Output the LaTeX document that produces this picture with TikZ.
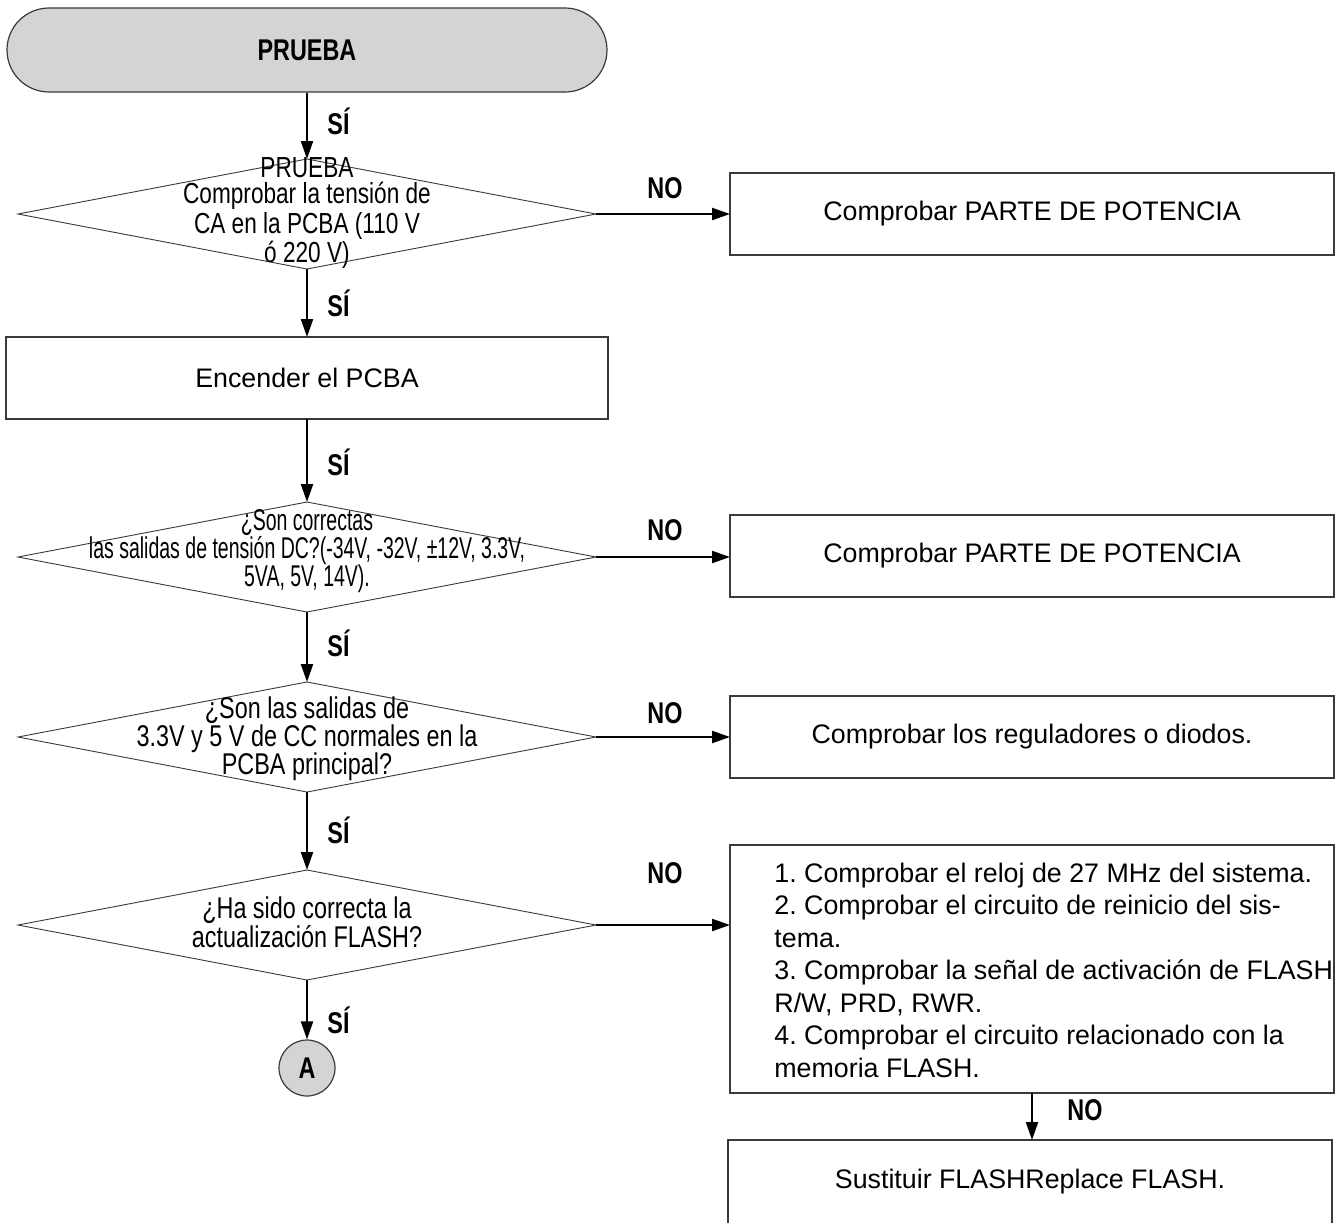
\documentclass[tikz,border=0pt]{standalone}
\usepackage{fontspec}
\setmainfont{Liberation Sans}
\newfontfamily\narrowfont[FakeStretch=0.78]{Liberation Sans}
\newfontfamily\narrowerfont[FakeStretch=0.65]{Liberation Sans}
\usetikzlibrary{arrows.meta,shapes.geometric}

\definecolor{edgegray}{HTML}{3A3A3A}
\definecolor{fillgray}{HTML}{D3D4D5}

\begin{document}
\frenchspacing
\begin{tikzpicture}[x=0.5pt,y=-0.5pt,
  boxstyle/.style={draw=edgegray, line width=0.7pt, rectangle, minimum width=302pt,
    minimum height=41pt, inner sep=0pt, outer sep=0pt,
    font=\fontsize{13.4}{16.25}\selectfont},
  decision/.style={draw=edgegray, line width=0.45pt, diamond, minimum width=289pt,
    minimum height=55pt, inner sep=0pt, outer sep=0pt},
  dtext/.style={align=center, inner sep=0pt},
  flow/.style={line width=1.1pt, -{Triangle[length=9pt,width=6pt]}},
  lbl/.style={font=\narrowfont\bfseries\fontsize{15}{16}\selectfont, inner sep=0pt},
  yes/.style={lbl, anchor=west},
]
\clip (0,0) rectangle (1343,1222);
\fill[white] (0,0) rectangle (1343,1222);

% main column
\node[draw=edgegray, line width=0.6pt, fill=fillgray, rounded corners=21pt,
  minimum width=300pt, minimum height=42pt, inner sep=0pt, lbl] (start) at (307,50) {PRUEBA};

\node[decision] (d1) at (307,214) {};
\node[dtext, font=\narrowfont\fontsize{14.5}{13.2}\selectfont] (d1t) at (307,213)
  {PRUEBA\\Comprobar la tensión de\\CA en la PCBA (110 V\\ó 220 V)};

\node[boxstyle, minimum width=301pt] (power) at (307,378) {Encender el PCBA};

\node[decision] (d2) at (307,557) {};
\node[dtext, font=\narrowerfont\fontsize{15}{14}\selectfont] (d2t) at (307,551)
  {¿Son correctas\\las salidas de tensión DC?(-34V, -32V, ±12V, 3.3V,\\5VA, 5V, 14V).};

\node[decision] (d3) at (307,737) {};
\node[dtext, font=\narrowfont\fontsize{15}{14}\selectfont] (d3t) at (307,739)
  {¿Son las salidas de\\3.3V y 5 V de CC normales en la\\PCBA principal?};

\node[decision] (d4) at (307,925) {};
\node[dtext, font=\narrowfont\fontsize{15}{14.5}\selectfont] (d4t) at (307,922)
  {¿Ha sido correcta la\\actualización FLASH?};

\node[circle, draw=edgegray, line width=0.6pt, fill=fillgray, minimum size=28pt,
  inner sep=0pt, lbl] (conn) at (307,1068) {A};

% right column
\node[boxstyle] (b1) at (1032,214) {Comprobar PARTE DE POTENCIA};
\node[boxstyle] (b2) at (1032,556) {Comprobar PARTE DE POTENCIA};
\node[boxstyle] (b3) at (1032,737) {Comprobar los reguladores o diodos.};
\node[boxstyle, minimum height=124pt] (b4) at (1032,969) {};
\node[align=left, anchor=west, inner sep=0pt, font=\fontsize{13.4}{16.25}\selectfont] (b4t)
  at (774,970) {1. Comprobar el reloj de 27 MHz del sistema.\\
  2. Comprobar el circuito de reinicio del sis-\\
  tema.\\
  3. Comprobar la señal de activación de FLASH\\
  R/W, PRD, RWR.\\
  4. Comprobar el circuito relacionado con la\\
  memoria FLASH.};
\node[boxstyle, minimum height=42pt] (b5) at (1030,1182) {Sustituir FLASHReplace FLASH.};

% YES path
\draw[flow] (start.south) -- (d1.north);
\draw[flow] (d1.south) -- (power.north);
\draw[flow] (power.south) -- (d2.north);
\draw[flow] (d2.south) -- (d3.north);
\draw[flow] (d3.south) -- (d4.north);
\draw[flow] (d4.south) -- (conn.north);
\node[yes] at (327,121) {SÍ};
\node[yes] at (327,303) {SÍ};
\node[yes] at (327,462) {SÍ};
\node[yes] at (327,643) {SÍ};
\node[yes] at (327,830) {SÍ};
\node[yes] at (327,1020) {SÍ};

% NO branches
\draw[flow] (d1.east) -- (b1.west);
\draw[flow] (d2.east) -- (d2.east -| b2.west);
\draw[flow] (d3.east) -- (b3.west);
\draw[flow] (d4.east) -- (d4.east -| b4.west);
\draw[flow] (b4.south) -- (b4.south |- b5.north);
\node[lbl] at (665,188) {NO};
\node[lbl] at (665,530) {NO};
\node[lbl] at (665,713) {NO};
\node[lbl] at (665,873) {NO};
\node[lbl] at (1085,1110) {NO};
\end{tikzpicture}
\end{document}
